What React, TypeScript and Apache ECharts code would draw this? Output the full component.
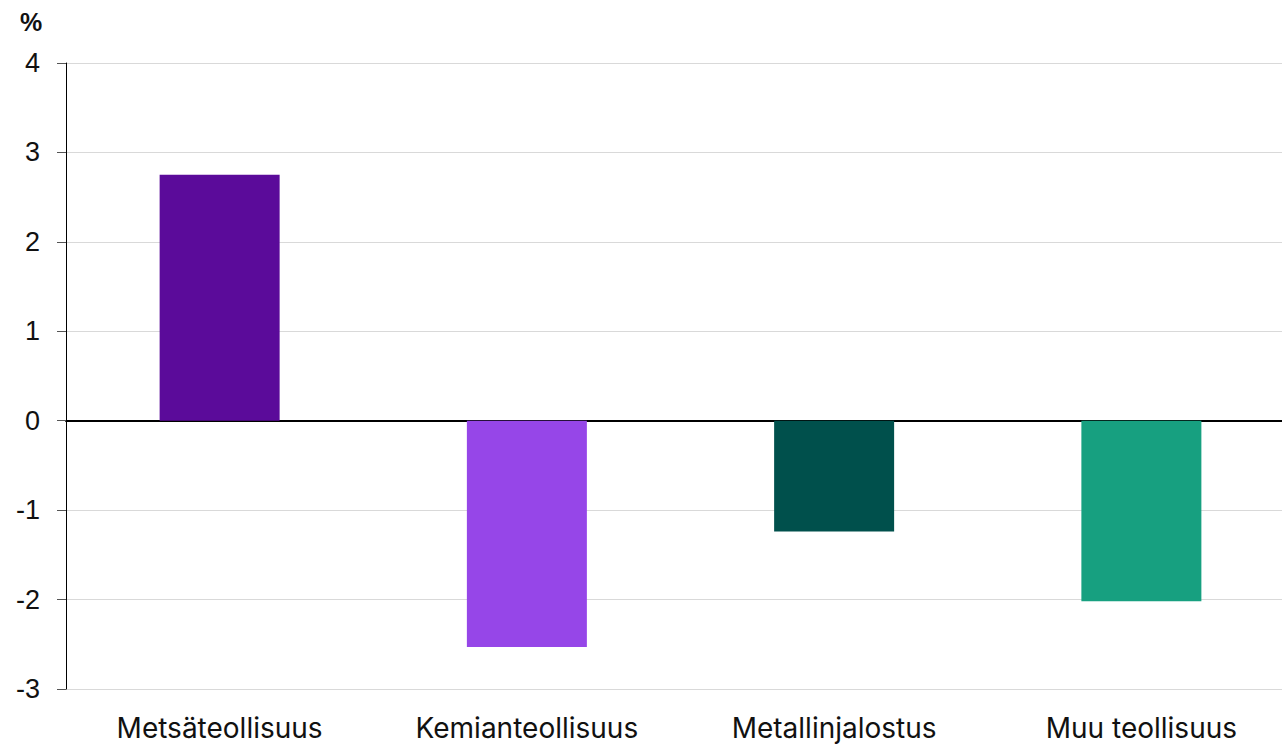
import React, { useEffect, useRef } from "react";
import * as echarts from "echarts";

const categories = ["Metsäteollisuus", "Kemianteollisuus", "Metallinjalostus", "Muu teollisuus"];
const values = [2.75, -2.53, -1.24, -2.02];
const barColors = ["#5b0b9a", "#9646e8", "#00504c", "#17a080"];
const yTicks = { min: -3, max: 4, interval: 1 };

export default function App() {
  const ref = useRef<HTMLDivElement>(null);

  useEffect(() => {
    const chart = echarts.init(ref.current!, null, { renderer: "svg" });
    chart.setOption({
      animation: false,
      backgroundColor: "#ffffff",
      grid: { left: 66, right: 0, top: 63, bottom: 58, containLabel: false },
      graphic: [
        {
          type: "text",
          left: 20,
          top: 9,
          style: {
            text: "%",
            fill: "#111",
            font: "bold 25px 'Liberation Sans', Arial, sans-serif",
          },
        },
      ],
      xAxis: {
        type: "category",
        data: categories,
        axisLine: { show: true, onZero: true, lineStyle: { color: "#000", width: 2 } },
        axisTick: { show: false },
        axisLabel: {
          color: "#111",
          fontSize: 28,
          fontFamily: "Inter, 'Noto Sans', sans-serif",
          margin: 25,
          interval: 0,
        },
        splitLine: { show: false },
      },
      yAxis: {
        type: "value",
        min: yTicks.min,
        max: yTicks.max,
        interval: yTicks.interval,
        axisLine: { show: true, lineStyle: { color: "#000", width: 1 } },
        axisTick: { show: true, length: 9, lineStyle: { color: "#555" } },
        axisLabel: {
          color: "#111",
          fontSize: 27,
          fontFamily: "'Liberation Sans', Arial, sans-serif",
          margin: 26,
        },
        splitLine: { show: true, lineStyle: { color: "#d9d9d9", width: 1 } },
      },
      series: [
        {
          type: "bar",
          barWidth: 120,
          data: values.map((v, i) => ({ value: v, itemStyle: { color: barColors[i] } })),
          z: 1,
        },
      ],
    });
    return () => chart.dispose();
  }, []);

  return (
    <div
      style={{
        position: "fixed",
        left: 0,
        top: 0,
        width: 1282,
        height: 747,
        overflow: "hidden",
        background: "#fff",
      }}
    >
      <div ref={ref} style={{ width: 1295, height: 747 }} />
    </div>
  );
}
